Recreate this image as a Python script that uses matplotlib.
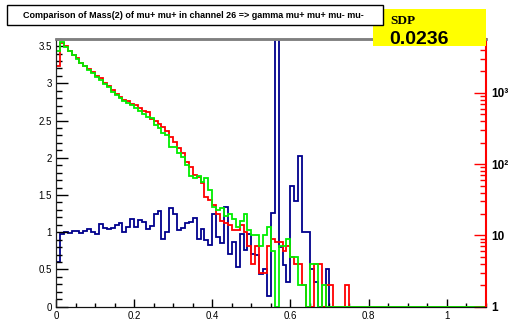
import numpy as np
import matplotlib
matplotlib.use('Agg')
import matplotlib.pyplot as plt
from matplotlib.ticker import FixedLocator, FixedFormatter, MultipleLocator, NullFormatter

plt.rcParams['font.family'] = ['Liberation Sans', 'DejaVu Sans']

# bin edges: 110 bins of 0.01 from 0 to 1.1
edges = np.round(np.arange(0, 111) * 0.01, 3)

# blue: ratio, linear left axis
blue_ratio = [
    0.60, 0.98, 1.00, 0.99, 1.02, 1.02, 0.99, 1.02, 1.05, 1.01,
    0.97, 1.11, 1.06, 1.04, 1.06, 1.10, 1.13, 1.01, 1.07, 1.18,
    1.07, 1.17, 1.14, 1.04, 1.08, 1.25, 1.28, 0.91, 1.01, 1.33,
    1.25, 1.03, 1.06, 1.12, 1.14, 1.19, 0.91, 1.05, 0.89, 0.83,
    1.25, 0.94, 0.85, 1.34, 0.71, 0.87, 0.53, 0.98, 0.76, 0.98,
    0.71, 0.70, 0.44, 0.50, 0.15, 1.26, 3.70, 0.80, 0.56, 0.33,
    1.62, 1.42, 2.03, 1.00, 1.00, 0.50, 0.33, 0, 0, 0.50,
    0, 0, 0, 0, 0, 0, 0, 0, 0, 0,
    0, 0, 0, 0, 0, 0, 0, 0, 0, 0,
    0, 0, 0, 0, 0, 0, 0, 0, 0, 0,
    0, 0, 0, 0, 0, 0, 0, 0, 0, 0,
]

# red / green: counts, log right axis
red_counts = [
    2380, 5000, 4500, 3900, 3400, 3050, 2650, 2400, 2150, 1950,
    1750, 1600, 1380, 1250, 1100, 960, 880, 790, 760, 700,
    670, 620, 560, 540, 430, 400, 360, 330, 290, 238,
    206, 170, 142, 108, 92, 70, 67, 54, 35, 31,
    27, 20, 16, 15, 14, 12, 12, 14, 11, 7,
    4, 7, 3, 3, 7, 9, 8, 8, 6, 7,
    5, 4, 4, 2, 0, 0, 4, 4, 0, 2,
    2, 0, 0, 0, 2, 0, 0, 0, 0, 0,
    0, 0, 0, 0, 0, 0, 0, 0, 0, 0,
    0, 0, 0, 0, 0, 0, 0, 0, 0, 0,
    0, 0, 0, 0, 0, 0, 0, 0, 0, 0,
]

green_counts = [
    3900, 5100, 4430, 3900, 3380, 2980, 2590, 2380, 2090, 1915,
    1680, 1510, 1320, 1200, 1040, 935, 840, 778, 720, 680,
    620, 560, 500, 454, 440, 355, 317, 270, 256, 176,
    176, 142, 127, 97, 68, 63, 68, 57, 63, 43,
    25, 23, 24, 19, 20, 17, 13, 16, 20, 12,
    10, 10, 7, 10, 13, 6, 0, 7, 7, 9,
    5, 5, 2, 2, 0, 4, 4, 0, 2, 0,
    0, 0, 0, 0, 0, 0, 0, 0, 0, 0,
    0, 0, 0, 0, 0, 0, 0, 0, 0, 0,
    0, 0, 0, 0, 0, 0, 0, 0, 0, 0,
    0, 0, 0, 0, 0, 0, 0, 0, 0, 0,
]

left_ticks = [0, 0.5, 1, 1.5, 2, 2.5, 3, 3.5]
left_labels = ['0', '0.5', '1', '1.5', '2', '2.5', '3', '3.5']
bottom_ticks = [0, 0.2, 0.4, 0.6, 0.8, 1.0]
bottom_labels = ['0', '0.2', '0.4', '0.6', '0.8', '1']
right_ticks = [1, 10, 100, 1000]
right_labels = ['1', '10', '10²', '10³']

fig = plt.figure(figsize=(5.1, 3.22), dpi=100)
ax = fig.add_axes([56 / 510, 1 - 306.7 / 322, (485.7 - 56) / 510, (306.7 - 38.7) / 322])
ax2 = ax.twinx()

ax.stairs(blue_ratio, edges, baseline=None, color='#00008c', lw=1.3)
ax.set_xlim(0, 1.1)
ax.set_ylim(0, 3.6)

# empty bins sit on the bottom of the log axis, as ROOT draws them
ax2.stairs(np.maximum(red_counts, 1), edges, baseline=None, color='#ff0000', lw=1.3)
ax2.stairs(np.maximum(green_counts, 1), edges, baseline=None, color='#00ee00', lw=1.3)
ax2.set_yscale('log')
ax2.set_ylim(1, 5750)

# left axis
ax.set_yticks(left_ticks, left_labels)
ax.yaxis.set_minor_locator(MultipleLocator(0.1))
ax.tick_params(axis='y', which='major', direction='in', length=8.6, width=1, labelsize=7, pad=3)
ax.tick_params(axis='y', which='minor', direction='in', length=4.3, width=1)

# bottom axis
ax.set_xticks(bottom_ticks, bottom_labels)
ax.xaxis.set_minor_locator(MultipleLocator(0.05))
ax.tick_params(axis='x', which='major', direction='in', length=5.8, width=1, labelsize=7, pad=3)
ax.tick_params(axis='x', which='minor', direction='in', length=2.9, width=1)

# right log axis
ax2.yaxis.set_major_locator(FixedLocator(right_ticks))
ax2.yaxis.set_major_formatter(FixedFormatter(right_labels))
ax2.yaxis.set_minor_locator(FixedLocator([m * d for d in [1, 10, 100, 1000] for m in range(2, 10)]))
ax2.yaxis.set_minor_formatter(NullFormatter())
ax2.tick_params(axis='y', which='major', direction='in', length=8.6, width=1, color='#ff0000',
                labelsize=8.5, pad=4)
ax2.tick_params(axis='y', which='minor', direction='in', length=4.3, width=1, color='#ff0000')
for lab in ax2.get_yticklabels():
    lab.set_fontweight('bold')

for a in (ax, ax2):
    a.spines['top'].set_color('#808080')
    a.spines['top'].set_linewidth(1.8)
    a.spines['left'].set_color('#222222')
    a.spines['bottom'].set_color('#111111')
    a.patch.set_visible(False)
ax.spines['right'].set_visible(False)
ax2.spines['right'].set_color('#ff0000')
ax2.spines['right'].set_linewidth(1.5)

# SDP box (drawn below the title box)
fig.patches.append(plt.Rectangle((373 / 510, 1 - 45.7 / 322), 113 / 510, 36.7 / 322,
                                 transform=fig.transFigure, facecolor='#ffff00',
                                 edgecolor='none', zorder=5))
fig.text(390 / 510, 1 - 24 / 322, 'SDP', family='Liberation Serif', fontweight='bold',
         fontsize=9.5, ha='left', va='baseline', zorder=6)
fig.text(389 / 510, 1 - 44 / 322, '0.0236', fontweight='bold', fontsize=14,
         ha='left', va='baseline', zorder=6)

# title box
fig.patches.append(plt.Rectangle((7.3 / 510, 1 - 25 / 322), 376 / 510, 20 / 322,
                                 transform=fig.transFigure, facecolor='white',
                                 edgecolor='black', lw=1, zorder=7))
fig.text(193 / 510, 1 - 15 / 322,
         'Comparison of Mass(2) of mu+ mu+ in channel 26 => gamma mu+ mu+ mu- mu-',
         fontweight='bold', fontsize=6.5, ha='center', va='center', zorder=8)

fig.savefig('out.png', dpi=100)
